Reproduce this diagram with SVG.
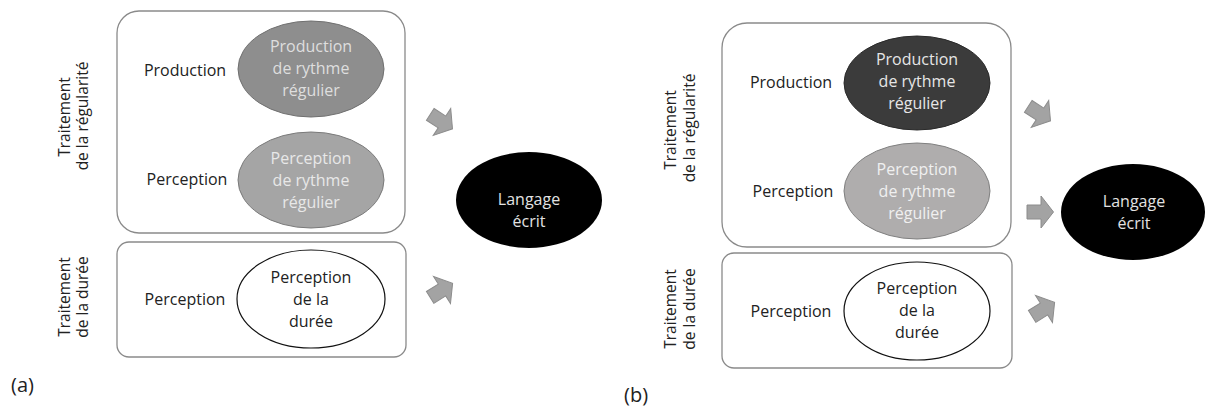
<svg xmlns="http://www.w3.org/2000/svg" width="1207" height="410" viewBox="0 0 1207 410">
<style>
text{font-family:"Open Sans","Liberation Sans",sans-serif;fill:#222;font-size:16px}
.r{font-size:15.5px;text-anchor:middle}
.m{text-anchor:middle}
.box{fill:#fff;stroke:#8a8a8a;stroke-width:1.3}
.wh{fill:#fff;stroke:#111;stroke-width:1.2}
.arr{fill:#a3a3a3;stroke:#8c8c8c;stroke-width:1}
.lt{fill:#e2e2e2}
</style>
<defs>
<polygon id="arw" points="-14,-7 0,-7 0,-16 12.5,0 0,16 0,7 -14,7"/>
</defs>
<rect width="1207" height="410" fill="#fff"/>

<g id="panel-a-labels">
<text class="r" transform="translate(70,117) rotate(-90)">Traitement</text>
<text class="r" transform="translate(88,116) rotate(-90)">de la régularité</text>
<text class="r" transform="translate(70,297) rotate(-90)">Traitement</text>
<text class="r" transform="translate(88,297) rotate(-90)">de la durée</text>
<text x="11" y="392" style="font-size:20px">(a)</text>
</g>

<g id="a-box-regularite"><rect class="box" x="117" y="11" width="288" height="222" rx="22"/></g>
<g id="a-box-duree"><rect class="box" x="117" y="242" width="289" height="115" rx="12"/></g>

<g id="a-label-production"><text class="m" x="185" y="76">Production</text></g>
<g id="a-label-perception1"><text class="m" x="187" y="185">Perception</text></g>
<g id="a-label-perception2"><text class="m" x="185" y="305">Perception</text></g>

<g id="a-prod-rythme">
<ellipse cx="311" cy="69" rx="73" ry="48" fill="#8e8e8e" stroke="#707070" stroke-width="1"/>
<text class="m" x="311" y="52" style="fill:#dedede">Production</text>
<text class="m" x="311" y="74" style="fill:#dedede">de rythme</text>
<text class="m" x="311" y="96" style="fill:#dedede">régulier</text>
</g>
<g id="a-perc-rythme">
<ellipse cx="311" cy="180" rx="73" ry="48" fill="#a5a5a5" stroke="#7a7a7a" stroke-width="1"/>
<text class="m" x="311" y="164" style="fill:#e8e8e8">Perception</text>
<text class="m" x="311" y="186" style="fill:#e8e8e8">de rythme</text>
<text class="m" x="311" y="208" style="fill:#e8e8e8">régulier</text>
</g>
<g id="a-perc-duree">
<ellipse class="wh" cx="311" cy="299" rx="74" ry="49"/>
<text class="m" x="311" y="283">Perception</text>
<text class="m" x="311" y="305">de la</text>
<text class="m" x="311" y="327">durée</text>
</g>
<g id="a-langage">
<ellipse cx="529" cy="200" rx="73" ry="48" fill="#000"/>
<text class="m lt" x="529" y="205">Langage</text>
<text class="m lt" x="529" y="227">écrit</text>
</g>

<g id="panel-b-labels">
<text class="r" transform="translate(676,130) rotate(-90)">Traitement</text>
<text class="r" transform="translate(695,128) rotate(-90)">de la régularité</text>
<text class="r" transform="translate(676,309) rotate(-90)">Traitement</text>
<text class="r" transform="translate(695,309) rotate(-90)">de la durée</text>
<text x="624" y="402" style="font-size:20px">(b)</text>
</g>

<g id="b-box-regularite"><rect class="box" x="722" y="23" width="289" height="224" rx="25"/></g>
<g id="b-box-duree"><rect class="box" x="722" y="253" width="290" height="115" rx="12"/></g>

<g id="b-label-production"><text class="m" x="791" y="88">Production</text></g>
<g id="b-label-perception1"><text class="m" x="793" y="197">Perception</text></g>
<g id="b-label-perception2"><text class="m" x="791" y="317">Perception</text></g>

<g id="b-prod-rythme">
<ellipse cx="917" cy="83" rx="73" ry="47" fill="#3b3b3b" stroke="#2a2a2a" stroke-width="1"/>
<text class="m" x="917" y="65" style="fill:#e6e6e6">Production</text>
<text class="m" x="917" y="87" style="fill:#e6e6e6">de rythme</text>
<text class="m" x="917" y="109" style="fill:#e6e6e6">régulier</text>
</g>
<g id="b-perc-rythme">
<ellipse cx="917" cy="191" rx="73" ry="48" fill="#afadad" stroke="#808080" stroke-width="1"/>
<text class="m" x="917" y="175" style="fill:#f0f0f0">Perception</text>
<text class="m" x="917" y="197" style="fill:#f0f0f0">de rythme</text>
<text class="m" x="917" y="219" style="fill:#f0f0f0">régulier</text>
</g>
<g id="b-perc-duree">
<ellipse class="wh" cx="917" cy="311" rx="73" ry="49"/>
<text class="m" x="917" y="294">Perception</text>
<text class="m" x="917" y="316">de la</text>
<text class="m" x="917" y="338">durée</text>
</g>
<g id="b-langage">
<ellipse cx="1133" cy="212" rx="72" ry="48" fill="#000"/>
<text class="m lt" x="1134" y="207">Langage</text>
<text class="m lt" x="1134" y="229">écrit</text>
</g>

<g id="connectors">
<use href="#arw" class="arr" transform="translate(442,122) rotate(33)"/>
<use href="#arw" class="arr" transform="translate(442,290) rotate(-32)"/>
<use href="#arw" class="arr" transform="translate(1040,114) rotate(33)"/>
<use href="#arw" class="arr" transform="translate(1041,212)"/>
<use href="#arw" class="arr" transform="translate(1044,309) rotate(-32)"/>
</g>
</svg>
